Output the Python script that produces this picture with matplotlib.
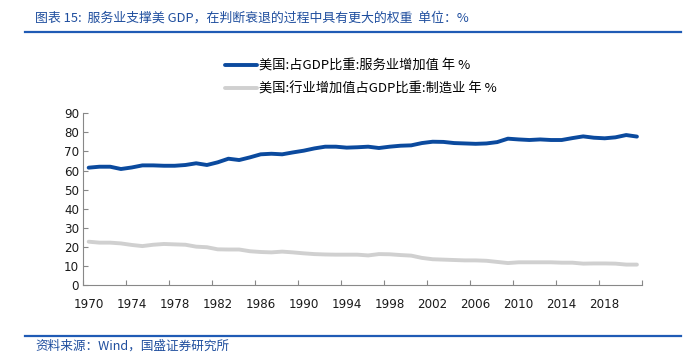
import matplotlib
matplotlib.use("Agg")
import matplotlib.pyplot as plt
import numpy as np
from matplotlib.lines import Line2D

plt.rcParams['font.family'] = ['Noto Sans CJK SC', 'DejaVu Sans']

years = list(range(1970, 2022))
services = [61.5, 62.0, 62.0, 60.8, 61.6, 62.7, 62.7, 62.5, 62.5, 62.9,
            63.8, 62.9, 64.3, 66.2, 65.5, 66.9, 68.5, 68.8, 68.5, 69.5,
            70.4, 71.6, 72.5, 72.5, 72.0, 72.2, 72.5, 71.8, 72.5, 73.0,
            73.2, 74.4, 75.1, 75.0, 74.4, 74.2, 74.0, 74.2, 74.9, 76.7,
            76.3, 76.0, 76.3, 76.0, 76.0, 77.0, 77.9, 77.2, 76.9, 77.4,
            78.6, 77.8]
manufacturing = [22.7, 22.2, 22.2, 21.8, 21.0, 20.4, 21.1, 21.5, 21.3, 21.1,
                 20.1, 19.8, 18.7, 18.6, 18.6, 17.7, 17.3, 17.1, 17.5, 17.1,
                 16.6, 16.2, 16.0, 15.9, 15.9, 15.9, 15.5, 16.2, 16.1, 15.7,
                 15.4, 14.2, 13.5, 13.3, 13.1, 12.9, 12.9, 12.7, 12.1, 11.5,
                 11.9, 11.9, 11.9, 11.9, 11.7, 11.7, 11.2, 11.3, 11.3, 11.2,
                 10.7, 10.7]
label_services = "美国:占GDP比重:服务业增加值 年 %"
label_manuf = "美国:行业增加值占GDP比重:制造业 年 %"
tick_years = list(range(1970, 2019, 4))
yticks = list(range(0, 91, 10))
title = "图表 15:  服务业支撑美 GDP，在判断衰退的过程中具有更大的权重  单位：%"
source = "资料来源：Wind，国盛证券研究所"

W, H = 687, 364
fig = plt.figure(figsize=(W / 100, H / 100), dpi=100)
ax = fig.add_axes([83.3 / W, (H - 285) / H, (642.3 - 83.3) / W, (285 - 113.3) / H])

x = np.array(years) + 0.5
blue = '#0B4A9E'
gray = '#D0D0D0'
l1, = ax.plot(x, services, color=blue, lw=2.8, solid_capstyle='round', label=label_services)
l2, = ax.plot(x, manufacturing, color=gray, lw=2.8, solid_capstyle='round', label=label_manuf)

ax.set_xlim(1970, 2022)
ax.set_ylim(0, 90)
ax.set_yticks(yticks)
ax.set_yticklabels([str(v) for v in yticks], family='DejaVu Sans', fontsize=8.6, color='#1a1a1a')
ax.set_xticks(np.array(tick_years) + 0.5)
ax.set_xticklabels([str(v) for v in tick_years], family='DejaVu Sans', fontsize=8.6, color='#1a1a1a')
ax.set_xticks(list(range(1970, 2023, 4)), minor=True)
ax.tick_params(axis='x', which='major', length=0, pad=9)
ax.tick_params(axis='x', which='minor', length=3.5, direction='in', color='#888888', width=0.8)
ax.tick_params(axis='y', length=3.5, direction='in', color='#888888', width=0.8, pad=3)
for s in ['top', 'right']:
    ax.spines[s].set_visible(False)
for s in ['left', 'bottom']:
    ax.spines[s].set_color('#888888')
    ax.spines[s].set_linewidth(0.8)

fig.legend(handles=[l1, l2], loc='upper left', bbox_to_anchor=(225 / W, 1 - 59.5 / H),
           frameon=False, fontsize=9.5, handlelength=2.4, handletextpad=0.15,
           labelspacing=0.75, borderpad=0, borderaxespad=0)

title_color = '#1F4E9E'
fig.text(35 / W, 1 - 18.5 / H, title, fontsize=9.3, color=title_color, va='center', ha='left',
         style='italic')
fig.add_artist(Line2D([25 / W, 681 / W], [1 - 32.3 / H, 1 - 32.3 / H], color='#1F5BB5', lw=1.6))
fig.add_artist(Line2D([25 / W, 681 / W], [1 - 335.7 / H, 1 - 335.7 / H], color='#1F5BB5', lw=1.6))
fig.text(35 / W, 1 - 346 / H, source, fontsize=9.1, color=title_color, va='center', ha='left',
         style='italic')

fig.savefig('out.png', dpi=100)
